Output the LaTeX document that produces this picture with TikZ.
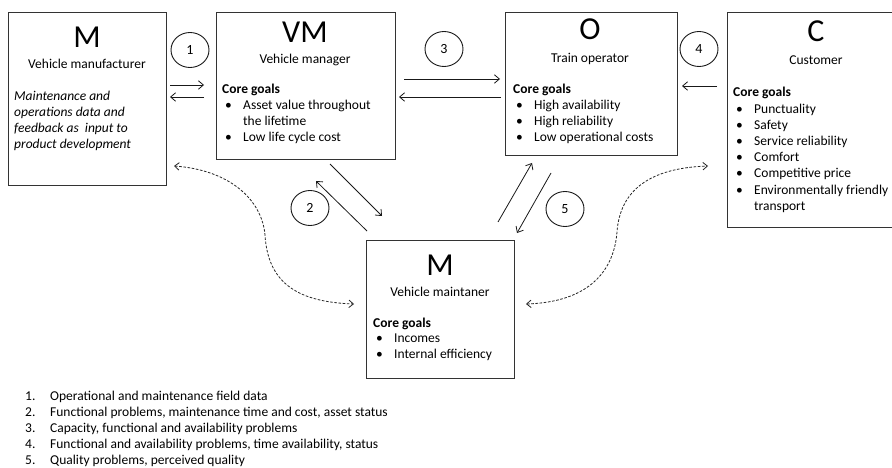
\documentclass[tikz,border=0pt]{standalone}
\usepackage{fontspec}
\setmainfont{Carlito}
\usetikzlibrary{arrows.meta,shapes.geometric}
\newcommand\blt{\hspace*{3pt}\makebox[18pt][l]{\textbullet}}
\newcommand\cnt{\hspace*{21pt}}
\begin{document}
\begin{tikzpicture}[x=1pt,y=-1pt,
  box/.style={draw=black!80, line width=0.9pt, anchor=north west, inner sep=0pt},
  num/.style={draw=black!90, ellipse, line width=0.9pt, minimum width=38pt, minimum height=35pt, inner sep=0pt, font=\fontsize{14}{16}\selectfont},
  arr/.style={draw=black!90, line width=0.8pt, -{Straight Barb[length=5pt,width=8.5pt]}},
  dasharr/.style={draw=black!85, line width=0.8pt, dash pattern=on 2.6pt off 1.6pt, {Straight Barb[length=4.5pt,width=7.5pt]}-{Straight Barb[length=4.5pt,width=7.5pt]}},
  big/.style={font=\fontsize{32}{32}\selectfont, inner sep=0pt, anchor=base},
  sub/.style={font=\fontsize{13.5}{16}\selectfont, inner sep=0pt, anchor=base},
  body/.style={inner sep=0pt, anchor=base west}
]
\useasboundingbox (0,0) rectangle (892,468);
\fill[white] (0,0) rectangle (892,468);
\clip (0,0) rectangle (892,468);

% boxes
\node[box, minimum width=158pt, minimum height=173pt] (mfr) at (8,12) {};
\node[box, minimum width=179pt, minimum height=147pt] (vm) at (216,12) {};
\node[box, minimum width=172pt, minimum height=143pt] (op) at (505,12) {};
\node[box, minimum width=180pt, minimum height=215pt] (cu) at (727,12) {};
\node[box, minimum width=148pt, minimum height=138pt] (mt) at (366,240) {};

% titles
\node[big] (mfrT) at (87,48) {M};
\node[sub] (mfrS) at (87,69) {Vehicle manufacturer};
\node[body] (mfrB) at (14,101) {\parbox[t]{150pt}{\fontsize{13.5}{16}\selectfont\itshape
Maintenance and\\operations data and\\feedback as\ \ input to\\product development}};

\node[big] (vmT) at (305,43) {VM};
\node[sub] (vmS) at (305,64) {Vehicle manager};
\node[body] (vmB) at (222,94) {\parbox[t]{170pt}{\fontsize{13.5}{16}\selectfont
\textbf{Core goals}\\\blt Asset value throughout\\\cnt the lifetime\\\blt Low life cycle cost}};

\node[big] (opT) at (590,40) {O};
\node[sub] (opS) at (590,63) {Train operator};
\node[body] (opB) at (513,94) {\parbox[t]{165pt}{\fontsize{13.5}{15.7}\selectfont
\textbf{Core goals}\\\blt High availability\\\blt High reliability\\\blt Low operational costs}};

\node[big] (cuT) at (816,42) {C};
\node[sub] (cuS) at (816,65) {Customer};
\node[body] (cuB) at (733,97) {\parbox[t]{170pt}{\fontsize{13.5}{16.2}\selectfont
\textbf{Core goals}\\\blt Punctuality\\\blt Safety\\\blt Service reliability\\\blt Comfort\\\blt Competitive price\\\blt Environmentally friendly\\\cnt transport}};

\node[big] (mtT) at (440,275) {M};
\node[sub] (mtS) at (440,296) {Vehicle maintaner};
\node[body] (mtB) at (373,327) {\parbox[t]{140pt}{\fontsize{13.5}{15.5}\selectfont
\textbf{Core goals}\\\blt Incomes\\\blt Internal efficiency}};

% numbered circles
\node[num] (c1) at (190,50) {1};
\node[num] (c3) at (444,49) {3};
\node[num] (c4) at (699,49) {4};
\node[num] (c2) at (310,208) {2};
\node[num] (c5) at (565,209) {5};

% arrow end points
\coordinate (a1s) at (170,85);  \coordinate (a1e) at (204,85);
\coordinate (b1s) at (204,97);  \coordinate (b1e) at (170,97);
\coordinate (a3s) at (404,79);  \coordinate (a3e) at (500,79);
\coordinate (b3s) at (501,97);  \coordinate (b3e) at (399,97);
\coordinate (a4s) at (717,86);  \coordinate (a4e) at (682,86);
\coordinate (a2s) at (330,164); \coordinate (a2e) at (382,216);
\coordinate (b2s) at (367,231); \coordinate (b2e) at (316,181);
\coordinate (a5s) at (498,222); \coordinate (a5e) at (532,163);
\coordinate (b5s) at (551,173); \coordinate (b5e) at (517,233);

\draw[arr] (a1s) -- (a1e);
\draw[arr] (b1s) -- (b1e);
\draw[arr] (a3s) -- (a3e);
\draw[arr] (b3s) -- (b3e);
\draw[arr] (a4s) -- (a4e);
\draw[arr] (a2s) -- (a2e);
\draw[arr] (b2s) -- (b2e);
\draw[arr] (a5s) -- (a5e);
\draw[arr] (b5s) -- (b5e);

% dashed curves
\coordinate (d1a) at (174,166); \coordinate (d1m) at (265,235); \coordinate (d1b) at (354,304);
\coordinate (d2a) at (526,304); \coordinate (d2m) at (617,232); \coordinate (d2b) at (708,166);
\draw[dasharr] (d1a) .. controls (230,170) and (262,200) .. (d1m) .. controls (268,285) and (300,302) .. (d1b);
\draw[dasharr] (d2a) .. controls (590,302) and (614,270) .. (d2m) .. controls (620,190) and (650,168) .. (d2b);

% legend
\node[body] (legend) at (25,400) {\parbox[t]{500pt}{\fontsize{13.5}{16.2}\selectfont
\makebox[25pt][l]{1.}Operational and maintenance field data\\
\makebox[25pt][l]{2.}Functional problems, maintenance time and cost, asset status\\
\makebox[25pt][l]{3.}Capacity, functional and availability problems\\
\makebox[25pt][l]{4.}Functional and availability problems, time availability, status\\
\makebox[25pt][l]{5.}Quality problems, perceived quality}};
\end{tikzpicture}
\end{document}
